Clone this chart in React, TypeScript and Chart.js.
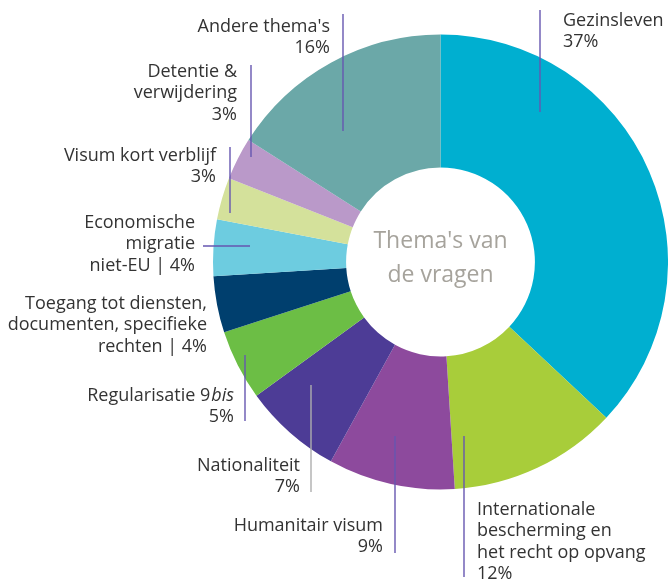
import React, { useEffect, useRef } from "react";
import { Chart, registerables } from "chart.js";

Chart.register(...registerables);

const categories = [
  "Gezinsleven",
  "Internationale bescherming en het recht op opvang",
  "Humanitair visum",
  "Nationaliteit",
  "Regularisatie 9bis",
  "Toegang tot diensten, documenten, specifieke rechten",
  "Economische migratie niet-EU",
  "Visum kort verblijf",
  "Detentie & verwijdering",
  "Andere thema's",
];
const values = [37, 12, 9, 7, 5, 4, 4, 3, 3, 16];
const colors = [
  "#00AFD0",
  "#A8CD3A",
  "#8D4A9D",
  "#4D3C96",
  "#6CBE45",
  "#003F6E",
  "#6DCCE0",
  "#D4E19B",
  "#BA99C9",
  "#6BA8A8",
];
const centerLines = ["Thema's van", "de vragen"];

type Label = {
  x: number;
  y: number;
  align: "left" | "right";
  lines: string[];
  leader?: [number, number, number, number];
  leaderColor?: string;
};

// label layout (one per category, same order)
const labelLayout: Label[] = [
  { x: 563, y: 26, align: "left", lines: ["Gezinsleven", "37%"], leader: [540, 10, 540, 112] },
  {
    x: 477, y: 515, align: "left",
    lines: ["Internationale", "bescherming en", "het recht op opvang", "12%"],
    leader: [464, 436, 464, 577],
  },
  { x: 383, y: 531, align: "right", lines: ["Humanitair visum", "9%"], leader: [395, 436, 395, 553] },
  { x: 300, y: 471, align: "right", lines: ["Nationaliteit", "7%"], leader: [311, 385, 311, 492], leaderColor: "#AEAEAE" },
  { x: 234, y: 401, align: "right", lines: ["Regularisatie 9|bis", "5%"], leader: [245, 355, 245, 421] },
  { x: 207, y: 309, align: "right", lines: ["Toegang tot diensten,", "documenten, specifieke", "rechten | 4%"] },
  { x: 195, y: 228, align: "right", lines: ["Economische", "migratie", "niet-EU | 4%"], leader: [203, 246, 250, 246] },
  { x: 216, y: 161, align: "right", lines: ["Visum kort verblijf", "3%"], leader: [230, 147, 230, 213] },
  { x: 237, y: 77, align: "right", lines: ["Detentie &", "verwijdering", "3%"], leader: [251, 65, 251, 157] },
  { x: 330, y: 32, align: "right", lines: ["Andere thema's", "16%"], leader: [343, 14, 343, 131] },
];

const FONT = "'Open Sans', sans-serif";
const LINE_H = 21.3;

const labelPlugin = {
  id: "labelPlugin",
  afterDraw(chart: any) {
    const ctx: CanvasRenderingContext2D = chart.ctx;
    ctx.save();
    // leader lines
    labelLayout.forEach((l) => {
      if (!l.leader) return;
      ctx.beginPath();
      ctx.strokeStyle = l.leaderColor || "#6656B0";
      ctx.lineWidth = 1.4;
      ctx.moveTo(l.leader[0], l.leader[1]);
      ctx.lineTo(l.leader[2], l.leader[3]);
      ctx.stroke();
    });
    // labels
    ctx.fillStyle = "#333333";
    ctx.textBaseline = "alphabetic";
    const normal = `400 18px ${FONT}`;
    const italic = `italic 400 18px ${FONT}`;
    labelLayout.forEach((l) => {
      l.lines.forEach((line, i) => {
        const y = l.y + i * LINE_H;
        if (line.includes("|bis")) {
          const [a, b] = line.split("|");
          ctx.font = normal;
          const wa = ctx.measureText(a).width;
          ctx.font = italic;
          const wb = ctx.measureText(b).width;
          const start = l.align === "right" ? l.x - wa - wb - 1 : l.x;
          ctx.textAlign = "left";
          ctx.font = normal;
          ctx.fillText(a, start, y);
          ctx.font = italic;
          ctx.fillText(b, start + wa + 1, y);
        } else {
          ctx.font = normal;
          ctx.textAlign = l.align;
          ctx.fillText(line, l.x, y);
        }
      });
    });
    // center text
    const meta = chart.getDatasetMeta(0);
    const arc = meta.data[0];
    const cx = arc.x;
    const cy = arc.y;
    ctx.fillStyle = "#A6A39C";
    ctx.font = `400 23px ${FONT}`;
    ctx.textAlign = "center";
    ctx.fillText(centerLines[0], cx, cy - 14);
    ctx.fillText(centerLines[1], cx, cy + 20);
    ctx.restore();
  },
};

export default function App() {
  const ref = useRef<HTMLCanvasElement | null>(null);
  useEffect(() => {
    if (!ref.current) return;
    const chart = new Chart(ref.current, {
      type: "doughnut",
      data: {
        labels: categories,
        datasets: [
          {
            data: values,
            backgroundColor: colors,
            borderWidth: 0,
          },
        ],
      },
      options: {
        responsive: false,
        animation: false,
        cutout: "41.5%",
        layout: { padding: { left: 213, right: 0, top: 34, bottom: 91 } },
        plugins: {
          legend: { display: false },
          tooltip: { enabled: false },
        },
      },
      plugins: [labelPlugin],
    });
    return () => chart.destroy();
  }, []);
  return (
    <div style={{ position: "fixed", left: 0, top: 0, width: 668, height: 581, background: "#fff" }}>
      <canvas ref={ref} width={668} height={581} style={{ width: 668, height: 581 }} />
    </div>
  );
}
